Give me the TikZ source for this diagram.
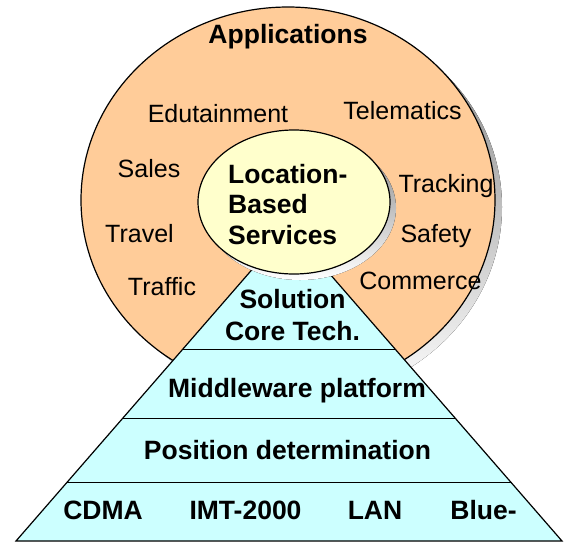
\documentclass[tikz,border=0pt]{standalone}
\usepackage{fontspec}
\setmainfont{Liberation Sans}
\usetikzlibrary{calc}
\definecolor{appfill}{HTML}{FFCC99}
\definecolor{lbsfill}{HTML}{FFFFCC}
\definecolor{techfill}{HTML}{CCFFFF}
\definecolor{shade}{HTML}{808080}

\begin{document}
\begin{tikzpicture}[x=1pt,y=-1pt, app/.style={font=\fontsize{25}{30}\selectfont,anchor=base,inner sep=0pt}, layer/.style={font=\fontsize{26.5}{32}\selectfont\bfseries,anchor=base,inner sep=0pt,align=center}, rim/.style={draw=black,line width=1.2pt}]
\useasboundingbox (0,0) rectangle (564,542);
\fill[shade] (296,207) ellipse [x radius=206pt,y radius=193pt];
\draw[rim,fill=appfill] (288,200) ellipse [x radius=207pt,y radius=193pt];
\coordinate (apex) at (289,227);
\coordinate (bl) at (16,541);
\coordinate (br) at (562,541);
\draw[rim,fill=techfill] (apex) -- (bl) -- (br) -- cycle;
\foreach \t in {0.389,0.611,0.815}
  \draw[line width=1pt] ($(apex)!\t!(bl)$) -- ($(apex)!\t!(br)$);
\fill[shade] (300,208) ellipse [x radius=96pt,y radius=72pt];
\draw[rim,fill=lbsfill] (294,202) ellipse [x radius=96pt,y radius=72pt];
\node[layer] (apps) at (288,43) {Applications};
\node[app] (edu) at (218,122) {Edutainment};
\node[app] (tele) at (402.5,119) {Telematics};
\node[app] (sales) at (149,177) {Sales};
\node[app] (track) at (446,192) {Tracking};
\node[app] (travel) at (139.5,242) {Travel};
\node[app] (safety) at (436,242) {Safety};
\node[app] (traffic) at (162,295) {Traffic};
\node[app] (commerce) at (420.5,289) {Commerce};
\node[layer,anchor=north west,align=left,font=\fontsize{26.5}{30.5}\selectfont\bfseries] (lbs) at (228,164) {Location-\\Based\\Services};
\node[layer,anchor=north] (core) at (292.5,289) {Solution\\Core Tech.};
\node[layer] (mid) at (297,397) {Middleware platform};
\node[layer] (pos) at (287.5,459) {Position determination};
\node[layer] (cdma) at (103,519) {CDMA};
\node[layer] (imt) at (245.5,519) {IMT-2000};
\node[layer] (lan) at (375,519) {LAN};
\node[layer] (blue) at (483.5,519) {Blue-};
\end{tikzpicture}
\end{document}
